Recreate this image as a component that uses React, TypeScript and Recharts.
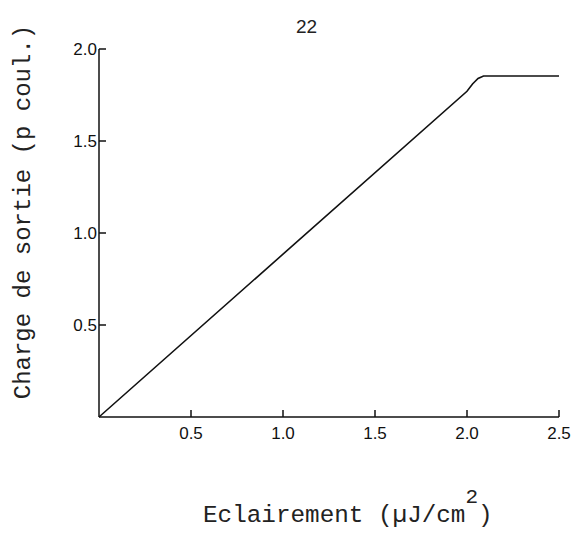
import { LineChart, Line, XAxis, YAxis } from "recharts";

const eclairement = [0, 1.0, 2.0, 2.03, 2.06, 2.09, 2.5];
const charge = [0, 0.885, 1.77, 1.81, 1.84, 1.853, 1.853];
const xTicks = [0.5, 1.0, 1.5, 2.0, 2.5];
const yTicks = [0.5, 1.0, 1.5, 2.0];

const data = eclairement.map((x, i) => ({ x, y: charge[i] }));

const mono = "'Liberation Mono', 'DejaVu Sans Mono', monospace";
const sans = "'Liberation Sans', Arial, sans-serif";

const fmt = (v: number) => v.toFixed(1);

function XTick({ x, y, payload }: any) {
  return (
    <text x={x} y={y} dy="0.71em" textAnchor="middle" fontFamily={sans} fontSize={17} fill="#111">
      {fmt(payload.value)}
    </text>
  );
}

function YTick({ x, y, payload }: any) {
  return (
    <text x={x} y={y} dy="0.36em" textAnchor="end" fontFamily={sans} fontSize={17} fill="#111">
      {fmt(payload.value)}
    </text>
  );
}

function YTitle() {
  const cy = 212;
  return (
    <text
      x={30}
      y={cy}
      transform={`rotate(-90, 30, ${cy})`}
      textAnchor="middle"
      fontFamily={mono}
      fontSize={24}
      fill="#222"
    >
      Charge de sortie (p coul.)
    </text>
  );
}

function XTitle() {
  return (
    <text x={203} y={522} fontFamily={mono} fontSize={24.3} fill="#222">
      Eclairement (µJ/cm
      <tspan dy={-19} fontSize={21}>2</tspan>
      <tspan dy={19}>)</tspan>
    </text>
  );
}

export default function App() {
  return (
    <div style={{ position: "absolute", left: 0, top: 0, width: 576, height: 547, background: "#fff" }}>
      <div
        style={{
          position: "absolute",
          left: 296,
          top: 16,
          fontFamily: sans,
          fontSize: 19,
          color: "#222",
        }}
      >
        22
      </div>
      <LineChart
        width={576}
        height={547}
        data={data}
        margin={{ top: 49, right: 17, bottom: 0, left: 0 }}
      >
        <XAxis
          dataKey="x"
          type="number"
          domain={[0, 2.5]}
          ticks={xTicks}
          height={130}
          tickSize={-7}
          tickMargin={17}
          stroke="#111"
          strokeWidth={1.5}
          tick={<XTick />}
          label={<XTitle />}
        />
        <YAxis
          type="number"
          domain={[0, 2]}
          ticks={yTicks}
          width={99}
          tickSize={-7}
          tickMargin={9}
          stroke="#111"
          strokeWidth={1.5}
          tick={<YTick />}
          label={<YTitle />}
        />
        <Line
          type="linear"
          dataKey="y"
          stroke="#111"
          strokeWidth={1.6}
          dot={false}
          isAnimationActive={false}
        />
      </LineChart>
    </div>
  );
}
